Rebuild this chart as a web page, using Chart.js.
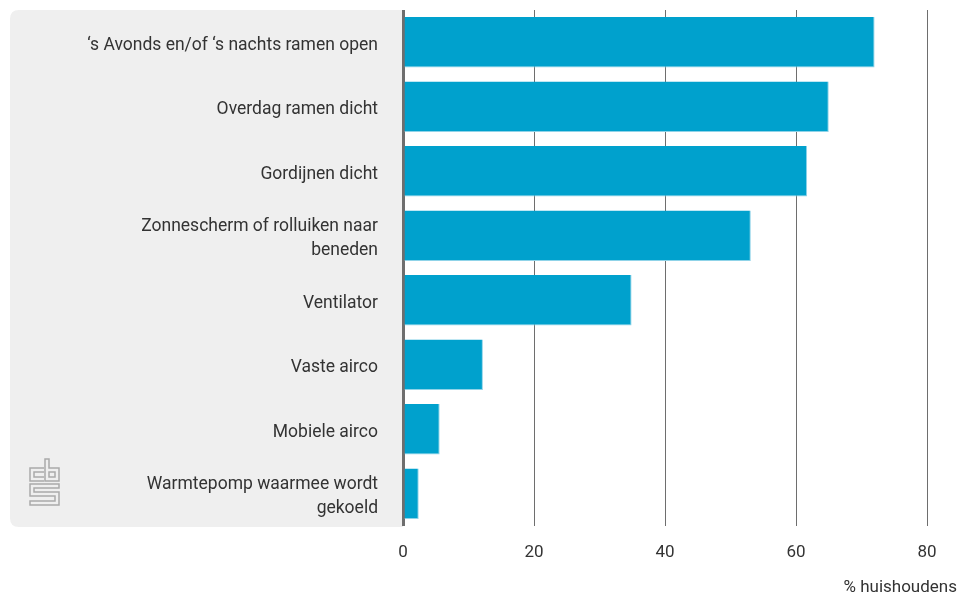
<!DOCTYPE html>
<html>
<head>
<meta charset="utf-8">
<script src="https://cdn.jsdelivr.net/npm/chart.js@4"></script>
<style>
  html, body { margin: 0; padding: 0; background: #fff; }
  #wrap { width: 967px; height: 604px; position: relative; }
</style>
</head>
<body>
<div id="wrap"><canvas id="chart"></canvas></div>
<script>
// Data
const categories = [
  '\u2018s Avonds en/of \u2018s nachts ramen open',
  'Overdag ramen dicht',
  'Gordijnen dicht',
  ['Zonnescherm of rolluiken naar', 'beneden'],
  'Ventilator',
  'Vaste airco',
  'Mobiele airco',
  ['Warmtepomp waarmee wordt', 'gekoeld']
];
const values = [72, 65, 61.7, 53.1, 34.9, 12.2, 5.6, 2.4];
const xTicks = [0, 20, 40, 60, 80];
const xTitle = '% huishoudens';

const FONT = 'Roboto, "Open Sans", sans-serif';
const TEXT = '#333333';

// Gray panel behind the labels + logo + axis title
const panelPlugin = {
  id: 'panel',
  beforeDraw(chart) {
    const { ctx, chartArea } = chart;
    const x0 = 10, y0 = chartArea.top, x1 = chartArea.left, y1 = chartArea.bottom + 1;
    const r = 9;
    ctx.save();
    ctx.fillStyle = '#efefef';
    ctx.beginPath();
    ctx.moveTo(x1, y0);
    ctx.lineTo(x0 + r, y0);
    ctx.quadraticCurveTo(x0, y0, x0, y0 + r);
    ctx.lineTo(x0, y1 - r);
    ctx.quadraticCurveTo(x0, y1, x0 + r, y1);
    ctx.lineTo(x1, y1);
    ctx.closePath();
    ctx.fill();

    // simplified cbs logo
    ctx.strokeStyle = '#aaaaaa';
    ctx.lineWidth = 1.5;
    const lx = 30, ly = 459;
    ctx.beginPath();
    // c
    ctx.moveTo(lx + 14, ly + 9);
    ctx.lineTo(lx, ly + 9);
    ctx.lineTo(lx, ly + 22);
    ctx.lineTo(lx + 14, ly + 22);
    ctx.moveTo(lx + 14, ly + 18);
    ctx.lineTo(lx + 4, ly + 18);
    ctx.lineTo(lx + 4, ly + 13);
    ctx.lineTo(lx + 14, ly + 13);
    // b
    ctx.moveTo(lx + 15, ly);
    ctx.lineTo(lx + 19, ly);
    ctx.lineTo(lx + 19, ly + 9);
    ctx.lineTo(lx + 29, ly + 9);
    ctx.lineTo(lx + 29, ly + 22);
    ctx.lineTo(lx + 15, ly + 22);
    ctx.closePath();
    ctx.rect(lx + 19, ly + 13, 6, 5);
    // s
    ctx.moveTo(lx, ly + 25);
    ctx.lineTo(lx + 29, ly + 25);
    ctx.lineTo(lx + 29, ly + 29);
    ctx.lineTo(lx + 4, ly + 29);
    ctx.lineTo(lx + 4, ly + 33);
    ctx.lineTo(lx + 29, ly + 33);
    ctx.lineTo(lx + 29, ly + 46);
    ctx.lineTo(lx, ly + 46);
    ctx.lineTo(lx, ly + 42);
    ctx.lineTo(lx + 25, ly + 42);
    ctx.lineTo(lx + 25, ly + 37);
    ctx.lineTo(lx, ly + 37);
    ctx.closePath();
    ctx.stroke();
    ctx.restore();
  },
  afterDraw(chart) {
    const { ctx } = chart;
    ctx.save();
    ctx.fillStyle = TEXT;
    ctx.font = '17px ' + FONT;
    ctx.textAlign = 'right';
    ctx.textBaseline = 'middle';
    ctx.fillText(xTitle, 957, 588);
    ctx.restore();
  }
};

new Chart(document.getElementById('chart'), {
  type: 'bar',
  data: {
    labels: categories,
    datasets: [{
      data: values,
      backgroundColor: '#00a1cd',
      borderColor: '#8fd3e8',
      borderWidth: { top: 0, left: 0, right: 1, bottom: 1 },
      barPercentage: 0.78,
      categoryPercentage: 1
    }]
  },
  options: {
    indexAxis: 'y',
    responsive: true,
    maintainAspectRatio: false,
    animation: false,
    layout: { padding: { top: 10, left: 10, right: 40, bottom: 0 } },
    plugins: {
      legend: { display: false },
      tooltip: { enabled: false }
    },
    scales: {
      x: {
        min: 0,
        max: 80,
        afterBuildTicks(scale) {
          scale.ticks = xTicks.map(v => ({ value: v }));
        },
        afterFit(scale) {
          scale.height = 78;
          scale.paddingLeft = 0;
          scale.paddingRight = 0;
        },
        border: { display: false },
        grid: {
          drawTicks: false,
          color: '#6e6e6e',
          lineWidth: ctx => (ctx.tick && ctx.tick.value === 0 ? 3 : 1)
        },
        ticks: {
          padding: 17,
          color: TEXT,
          font: { family: FONT, size: 17 }
        }
      },
      y: {
        afterFit(scale) {
          scale.width = 393;
          scale.paddingTop = 0;
          scale.paddingBottom = 0;
        },
        border: { display: false },
        grid: { display: false, drawTicks: false },
        ticks: {
          padding: 25,
          labelOffset: 3,
          color: TEXT,
          font: { family: FONT, size: 17.5, lineHeight: 1.37 }
        }
      }
    }
  },
  plugins: [panelPlugin]
});
</script>
</body>
</html>
